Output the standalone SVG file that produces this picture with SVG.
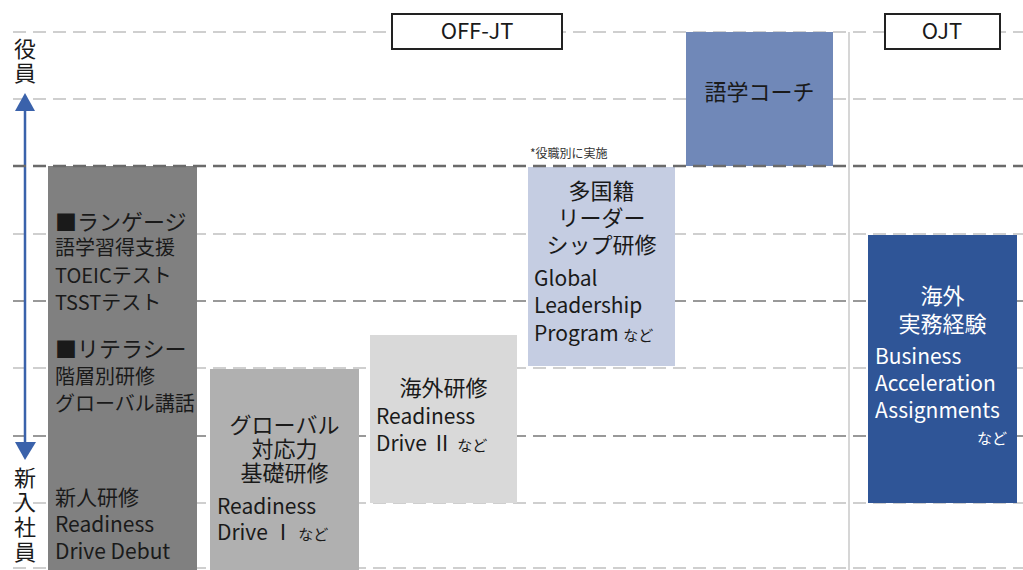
<svg xmlns="http://www.w3.org/2000/svg" width="1023" height="570" viewBox="0 0 1023 570">
<defs>
<style>
text{font-family:"Noto Sans CJK JP","Noto Sans",sans-serif;fill:#1a1a1a}
.h{font-size:22px}
.b{font-size:20px}
.l{font-size:21px}
.s{font-size:15px}
.c{text-anchor:middle}
.w{fill:#ffffff}
.dl{stroke:#cfcfcf;stroke-width:2;stroke-dasharray:13 7;fill:none}
.dm{stroke:#999999;stroke-width:2.2;stroke-dasharray:13 7;fill:none}
.dd{stroke:#6a6a6a;stroke-width:2.6;stroke-dasharray:13 7;fill:none}
.lab{fill:#ffffff;stroke:#222222;stroke-width:2}
</style>
<marker id="ah" viewBox="0 0 10 10" refX="9" refY="5" markerWidth="4.2" markerHeight="4" markerUnits="userSpaceOnUse" orient="auto-start-reverse">
<path d="M0,0 L10,5 L0,10 z" fill="#3a62ab"/>
</marker>
</defs>
<rect width="1023" height="570" fill="#ffffff"/>
<g id="grid">
<path class="dl" d="M13,32H1023 M13,99H1023 M13,234H1023 M13,368H1023 M13,503H1023 M13,568H1023"/>
<path class="dm" d="M13,301H1023 M13,436H1023"/>
<line x1="849" y1="32" x2="849" y2="570" stroke="#cccccc" stroke-width="1.6"/>
</g>
<g id="axis">
<line x1="25" y1="110" x2="25" y2="442" stroke="#3a62ab" stroke-width="2.5"/>
<path d="M25,93 L15,111 L35,111 z" fill="#3a62ab"/>
<path d="M25,460 L15,442 L36,442 z" fill="#3a62ab"/>
<text class="h c" x="25" y="57">役</text>
<text class="h c" x="25" y="81">員</text>
<text class="h c" x="25" y="486">新</text>
<text class="h c" x="25" y="510">入</text>
<text class="h c" x="25" y="535">社</text>
<text class="h c" x="25" y="560">員</text>
</g>
<g id="label-offjt">
<rect class="lab" x="392" y="14" width="170" height="35"/>
<text class="h c" x="477" y="39">OFF-JT</text>
</g>
<g id="label-ojt">
<rect class="lab" x="885" y="14" width="115" height="35"/>
<text class="h c" x="942" y="39">OJT</text>
</g>
<g id="node-basic">
<rect x="48" y="166" width="149" height="404" fill="#808080"/>
<text class="h" x="55" y="230">■ランゲージ</text>
<text class="b" x="55" y="255">語学習得支援</text>
<text class="b" x="55" y="283">TOEICテスト</text>
<text class="b" x="55" y="310">TSSTテスト</text>
<text class="h" x="55" y="357">■リテラシー</text>
<text class="b" x="55" y="384">階層別研修</text>
<text class="b" x="55" y="411">グローバル講話</text>
<text class="l" x="55" y="505">新人研修</text>
<text class="l" x="55" y="532">Readiness</text>
<text class="l" x="55" y="559">Drive Debut</text>
</g>
<g id="node-global-basic">
<rect x="210" y="369" width="149" height="201" fill="#b0b0b0"/>
<text class="h c" x="284.5" y="433">グローバル</text>
<text class="h c" x="284.5" y="457">対応力</text>
<text class="h c" x="284.5" y="481">基礎研修</text>
<text class="l" x="217" y="514">Readiness</text>
<text class="l" x="217" y="540">Drive Ⅰ <tspan class="s">など</tspan></text>
</g>
<g id="node-overseas">
<rect x="370" y="335" width="147" height="168" fill="#d9d9d9"/>
<text class="h c" x="443.5" y="396">海外研修</text>
<text class="l" x="376" y="424">Readiness</text>
<text class="l" x="376" y="451">Drive Ⅱ <tspan class="s">など</tspan></text>
</g>
<g id="node-leadership">
<text x="530" y="158" style="font-size:12px;fill:#333">*役職別に実施</text>
<rect x="528" y="167" width="147" height="199" fill="#c5cde2"/>
<text class="h c" x="601.5" y="199">多国籍</text>
<text class="h c" x="601.5" y="226">リーダー</text>
<text class="h c" x="601.5" y="253">シップ研修</text>
<text class="l" x="534" y="286">Global</text>
<text class="l" x="534" y="313">Leadership</text>
<text class="l" x="534" y="341">Program <tspan class="s">など</tspan></text>
</g>
<g id="node-coach">
<rect x="686" y="32" width="147" height="134" fill="#7088b8"/>
<text class="h c" x="759.5" y="100">語学コーチ</text>
</g>
<g id="node-ojt">
<rect x="868" y="235" width="149" height="268" fill="#2f5597"/>
<text class="h c w" x="942.5" y="304">海外</text>
<text class="h c w" x="942.5" y="332">実務経験</text>
<text class="l w" x="875" y="364">Business</text>
<text class="l w" x="875" y="391">Acceleration</text>
<text class="l w" x="875" y="418">Assignments</text>
<text class="s w" x="1007" y="444" text-anchor="end">など</text>
</g>
<g id="connectors">
<path class="dd" d="M13,166H1023"/>
</g>
</svg>
